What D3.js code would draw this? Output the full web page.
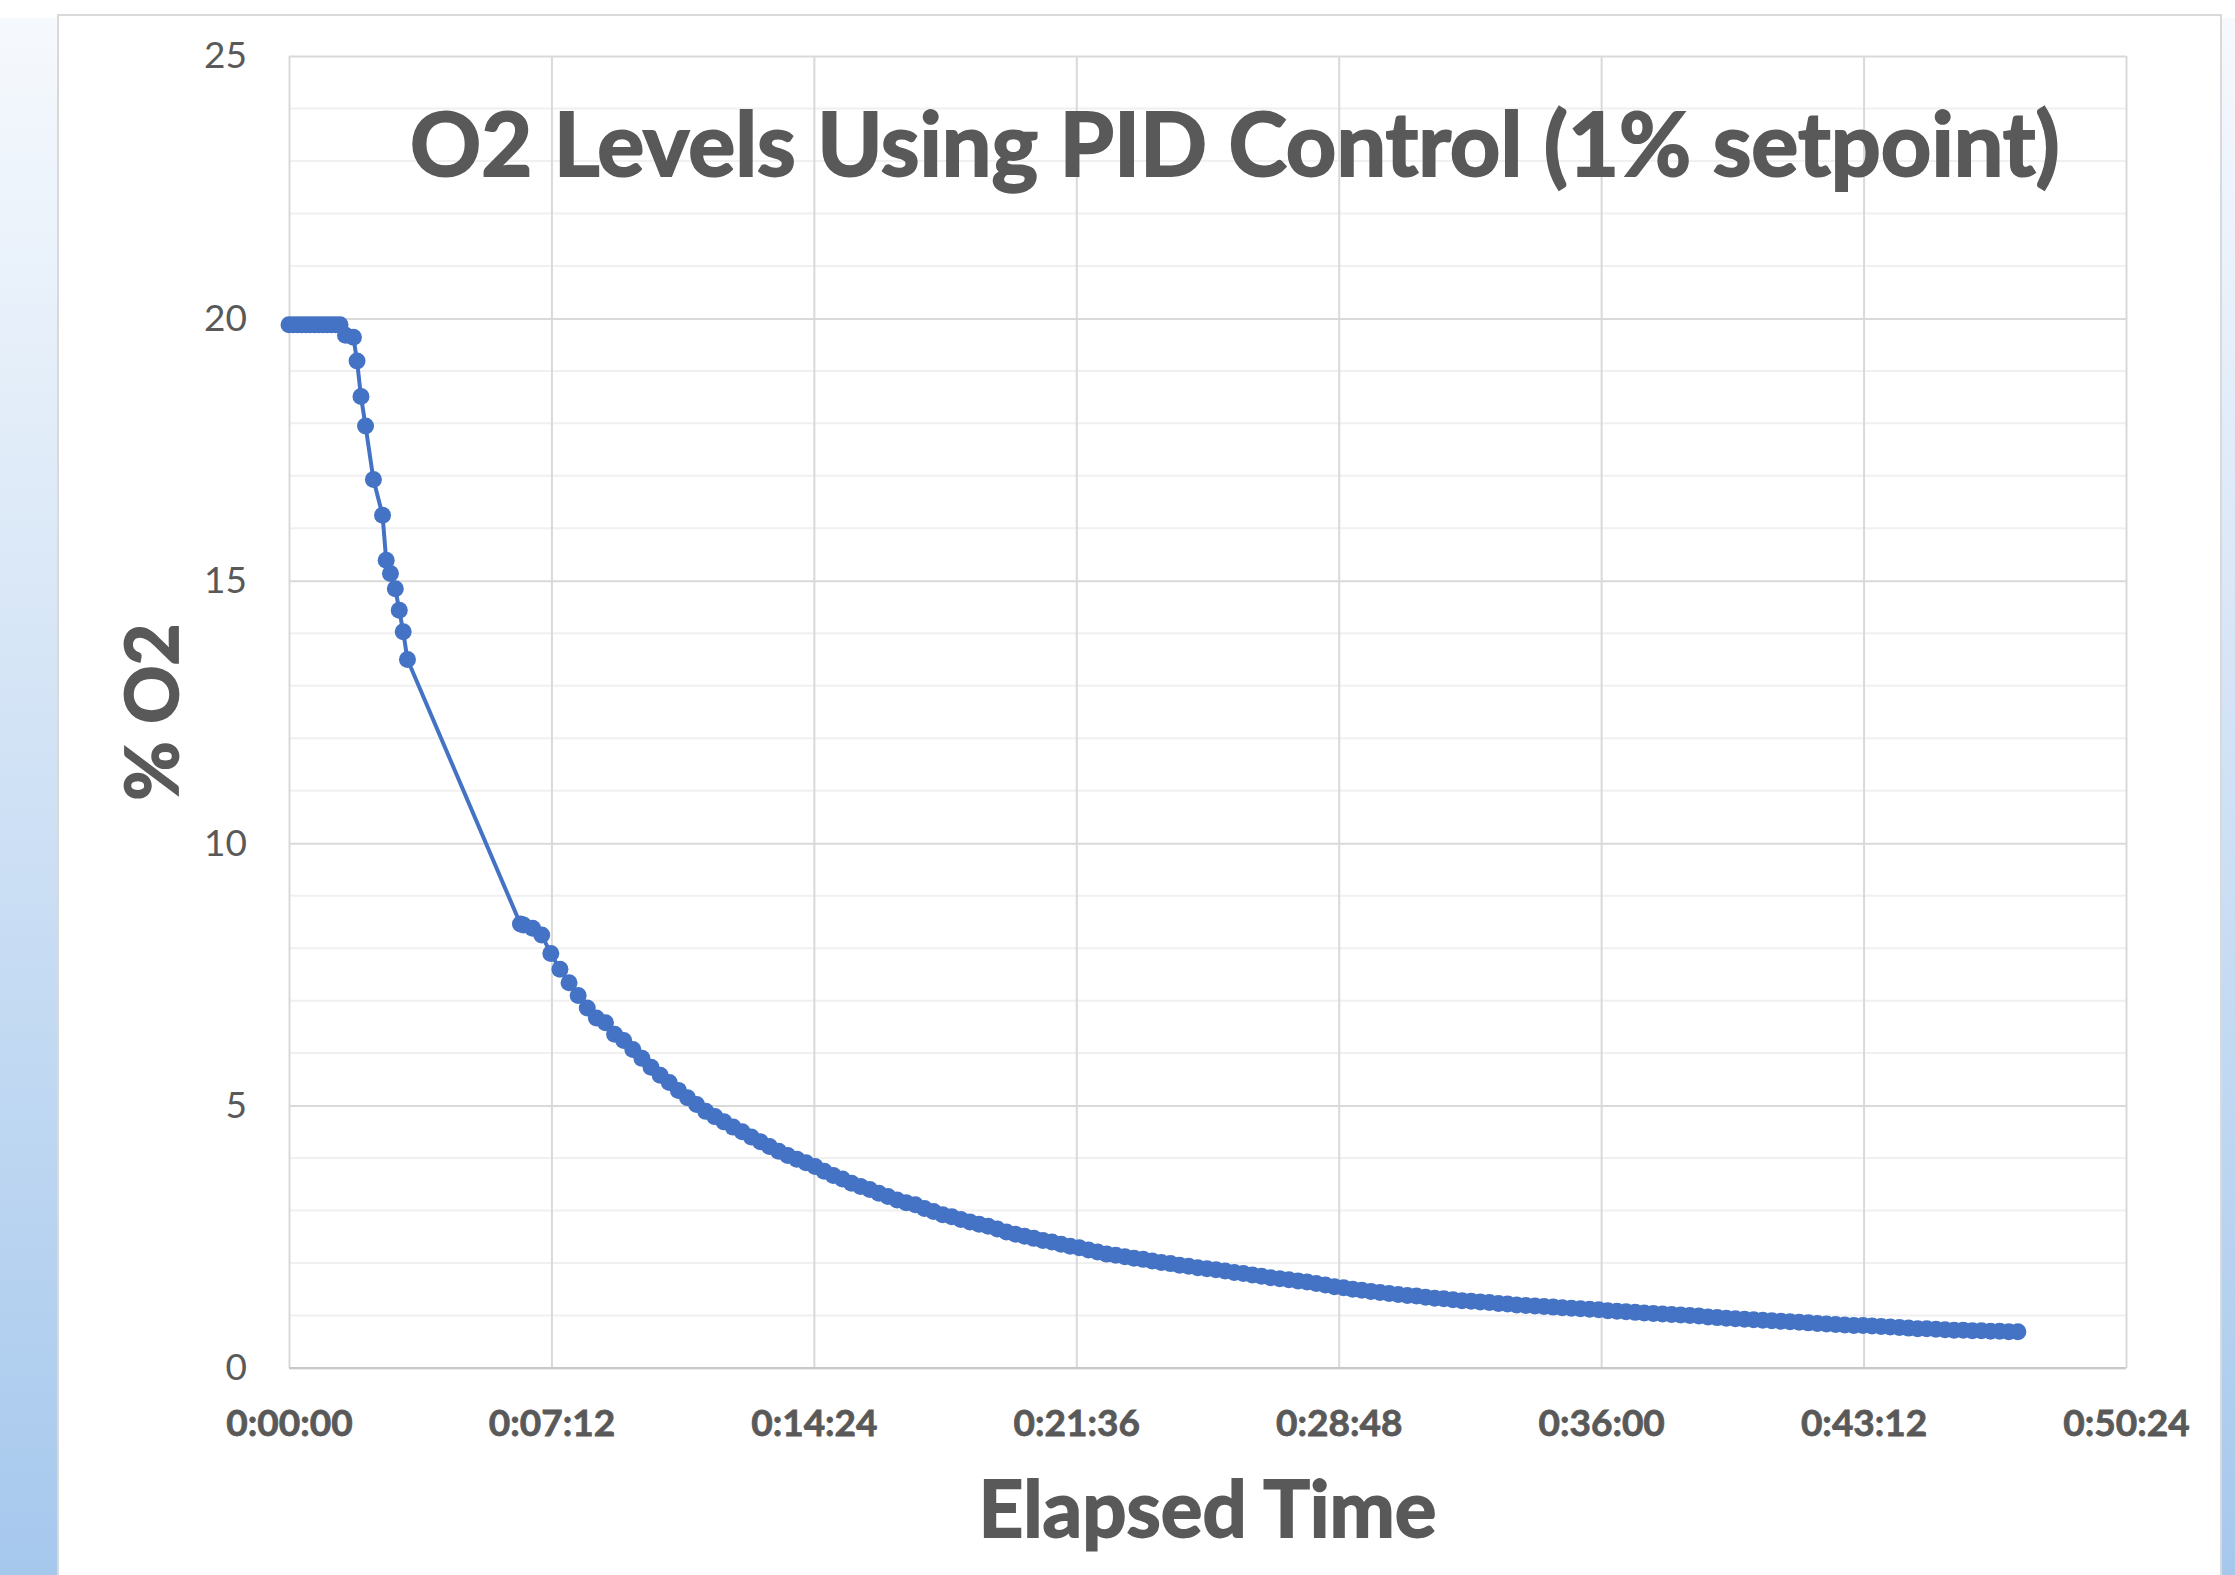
<!DOCTYPE html>
<html>
<head>
<meta charset="utf-8">
<script src="https://cdn.jsdelivr.net/npm/d3@7"></script>
<style>
  html, body { margin: 0; padding: 0; background: #fff; }
  svg { display: block; }
</style>
</head>
<body>
<div id="chart"></div>
<script>
// Elapsed time in seconds, O2 in %
// start: flat at ambient, then the first drop (sparse readings)
const startSec = [0, 7, 14, 21, 28, 35, 42, 49, 56, 63, 70, 77, 84,
  93, 106, 112, 118.5, 126, 139, 154, 160, 167, 175, 181.5, 188, 195];
const startO2 = [19.88, 19.88, 19.88, 19.88, 19.88, 19.88, 19.88, 19.88, 19.88, 19.88, 19.88, 19.88, 19.88,
  19.68, 19.64, 19.19, 18.51, 17.95, 16.93, 16.25, 15.39, 15.14, 14.85, 14.44, 14.03, 13.50];

// decay: dense readings after the gap
const decaySec = [381,
  386, 401, 416, 431, 446, 461, 476, 491, 506, 521,
  536, 551, 566, 581, 596, 611, 626, 641, 656, 671,
  686, 701, 716, 731, 746, 761, 776, 791, 806, 821,
  836, 851, 866, 881, 896, 911, 926, 941, 956, 971,
  986, 1001, 1016, 1031, 1046, 1061, 1076, 1091, 1106, 1121,
  1136, 1151, 1166, 1181, 1196, 1211, 1226, 1241, 1256, 1271,
  1286, 1301, 1316, 1331, 1346, 1361, 1376, 1391, 1406, 1421,
  1436, 1451, 1466, 1481, 1496, 1511, 1526, 1541, 1556, 1571,
  1586, 1601, 1616, 1631, 1646, 1661, 1676, 1691, 1706, 1721,
  1736, 1751, 1766, 1781, 1796, 1811, 1826, 1841, 1856, 1871,
  1886, 1901, 1916, 1931, 1946, 1961, 1976, 1991, 2006, 2021,
  2036, 2051, 2066, 2081, 2096, 2111, 2126, 2141, 2156, 2171,
  2186, 2201, 2216, 2231, 2246, 2261, 2276, 2291, 2306, 2321,
  2336, 2351, 2366, 2381, 2396, 2411, 2426, 2441, 2456, 2471,
  2486, 2501, 2516, 2531, 2546, 2561, 2576, 2591, 2606, 2621,
  2636, 2651, 2666, 2681, 2696, 2711, 2726, 2741, 2756, 2771,
  2786, 2801, 2816, 2831, 2846];
const decayO2 = [8.46,
  8.44, 8.38, 8.25, 7.90, 7.60, 7.34, 7.10, 6.86, 6.67, 6.58,
  6.36, 6.24, 6.07, 5.90, 5.73, 5.58, 5.44, 5.29, 5.15, 5.02,
  4.89, 4.79, 4.69, 4.59, 4.50, 4.40, 4.31, 4.22, 4.13, 4.05,
  3.98, 3.91, 3.84, 3.75, 3.67, 3.60, 3.52, 3.46, 3.40, 3.33,
  3.27, 3.20, 3.15, 3.11, 3.04, 2.98, 2.92, 2.88, 2.83, 2.78,
  2.74, 2.70, 2.65, 2.59, 2.55, 2.51, 2.47, 2.43, 2.40, 2.36,
  2.32, 2.29, 2.25, 2.21, 2.17, 2.15, 2.12, 2.09, 2.07, 2.04,
  2.01, 1.99, 1.96, 1.94, 1.91, 1.89, 1.87, 1.85, 1.82, 1.80,
  1.77, 1.75, 1.72, 1.70, 1.68, 1.66, 1.64, 1.61, 1.58, 1.55,
  1.53, 1.50, 1.48, 1.46, 1.44, 1.42, 1.40, 1.38, 1.37, 1.35,
  1.33, 1.32, 1.30, 1.28, 1.27, 1.26, 1.25, 1.23, 1.22, 1.20,
  1.19, 1.18, 1.17, 1.16, 1.15, 1.14, 1.13, 1.12, 1.11, 1.09,
  1.08, 1.07, 1.06, 1.05, 1.04, 1.03, 1.02, 1.01, 1.00, 0.99,
  0.97, 0.96, 0.95, 0.94, 0.93, 0.92, 0.91, 0.90, 0.89, 0.88,
  0.87, 0.86, 0.85, 0.84, 0.83, 0.82, 0.81, 0.81, 0.80, 0.79,
  0.78, 0.77, 0.76, 0.75, 0.75, 0.74, 0.73, 0.72, 0.72, 0.71,
  0.71, 0.70, 0.70, 0.69, 0.69];

// axis ticks: every 7:12 (432 s)
const xTicks = [0, 432, 864, 1296, 1728, 2160, 2592, 3024];
const yTicks = [0, 5, 10, 15, 20, 25];
const yMinor = [1, 2, 3, 4, 6, 7, 8, 9, 11, 12, 13, 14, 16, 17, 18, 19, 21, 22, 23, 24];

const titleText = "O2 Levels Using PID Control (1% setpoint)";
const xTitleText = "Elapsed Time";
const yTitleText = "% O2";

const data = startSec.map((t, i) => ({ t, v: startO2[i] }))
  .concat(decaySec.map((t, i) => ({ t, v: decayO2[i] })));

const W = 2235, H = 1575;
const margin = { top: 56, right: 109, bottom: 207, left: 289 }; // plot area inside the chart box
const textColor = "#595959";
const blue = "#4472c4";
const font = "Lato, 'Open Sans', sans-serif";

const svg = d3.select("#chart").append("svg")
  .attr("width", W)
  .attr("height", H);

// side panels behind the chart box
const grad = svg.append("defs").append("linearGradient")
  .attr("id", "side").attr("x1", 0).attr("y1", 0).attr("x2", 0).attr("y2", 1);
grad.append("stop").attr("offset", "0%").attr("stop-color", "#f6f9fd");
grad.append("stop").attr("offset", "50%").attr("stop-color", "#cfe1f5");
grad.append("stop").attr("offset", "100%").attr("stop-color", "#a6c8ed");

svg.append("rect").attr("x", 0).attr("y", 18).attr("width", 58).attr("height", H - 18).attr("fill", "url(#side)");
svg.append("rect").attr("x", 2221).attr("y", 18).attr("width", 14).attr("height", H - 18).attr("fill", "url(#side)");

// chart box
svg.append("rect")
  .attr("x", 58).attr("y", 15)
  .attr("width", 2163).attr("height", H)
  .attr("fill", "#fff")
  .attr("stroke", "#d9d9d9")
  .attr("stroke-width", 2);

const x = d3.scaleLinear()
  .domain([0, 3024])
  .range([margin.left, W - margin.right]);

const y = d3.scaleLinear()
  .domain([0, 25])
  .range([H - margin.bottom, margin.top]);

const fmtTime = s => {
  const h = Math.floor(s / 3600), m = Math.floor((s % 3600) / 60), sec = s % 60;
  return `${h}:${String(m).padStart(2, "0")}:${String(sec).padStart(2, "0")}`;
};

// minor gridlines
svg.append("g")
  .selectAll("line")
  .data(yMinor)
  .join("line")
  .attr("x1", x(0)).attr("x2", x(3024))
  .attr("y1", d => y(d)).attr("y2", d => y(d))
  .attr("stroke", "#f0f0f0")
  .attr("stroke-width", 2);

// major gridlines
svg.append("g")
  .attr("transform", `translate(${margin.left},0)`)
  .call(d3.axisLeft(y).tickValues(yTicks).tickSize(-(x(3024) - x(0))).tickFormat(""))
  .call(g => g.select(".domain").remove())
  .selectAll("line")
  .attr("stroke", "#d9d9d9")
  .attr("stroke-width", 2);

svg.append("g")
  .attr("transform", `translate(0,${margin.top})`)
  .call(d3.axisBottom(x).tickValues(xTicks).tickSize(y(0) - y(25)).tickFormat(""))
  .call(g => g.select(".domain").remove())
  .selectAll("line")
  .attr("stroke", "#d9d9d9")
  .attr("stroke-width", 2);

// x axis line
svg.append("line")
  .attr("x1", x(0)).attr("x2", x(3024))
  .attr("y1", y(0)).attr("y2", y(0))
  .attr("stroke", "#c8c8c8")
  .attr("stroke-width", 2);

// y tick labels
svg.append("g")
  .attr("transform", `translate(${margin.left},0)`)
  .call(d3.axisLeft(y).tickValues(yTicks).tickSize(0).tickPadding(42))
  .call(g => g.select(".domain").remove())
  .selectAll("text")
  .style("font-family", font)
  .style("font-size", "37px")
  .style("fill", textColor);

// x tick labels
svg.append("g")
  .attr("transform", `translate(0,${y(0)})`)
  .call(d3.axisBottom(x).tickValues(xTicks).tickSize(0).tickPadding(42).tickFormat(fmtTime))
  .call(g => g.select(".domain").remove())
  .selectAll("text")
  .style("font-family", font)
  .style("font-size", "37px")
  .style("font-weight", "bold")
  .style("fill", textColor)
  .style("stroke", textColor)
  .style("stroke-width", 0.8);

// series
const line = d3.line().x(d => x(d.t)).y(d => y(d.v));
svg.append("path")
  .datum(data)
  .attr("fill", "none")
  .attr("stroke", blue)
  .attr("stroke-width", 4)
  .attr("stroke-linejoin", "round")
  .attr("d", line);

svg.append("g")
  .selectAll("circle")
  .data(data)
  .join("circle")
  .attr("cx", d => x(d.t))
  .attr("cy", d => y(d.v))
  .attr("r", 8.5)
  .attr("fill", blue);

// fit a text to a measured width
function fitText(sel, target, size) {
  sel.style("font-size", size + "px");
  const len = sel.node().getComputedTextLength();
  sel.style("font-size", (size * target / len) + "px");
}

const title = svg.append("text")
  .attr("x", 410).attr("y", 176)
  .style("font-family", font)
  .style("font-weight", "bold")
  .style("fill", textColor)
  .style("stroke", textColor)
  .style("stroke-width", 2)
  .text(titleText);
fitText(title, 1650, 88);

const xTitle = svg.append("text")
  .attr("x", (x(0) + x(3024)) / 2).attr("y", 1537)
  .attr("text-anchor", "middle")
  .style("font-family", font)
  .style("font-weight", "bold")
  .style("fill", textColor)
  .style("stroke", textColor)
  .style("stroke-width", 1.8)
  .text(xTitleText);
fitText(xTitle, 458, 76);

const yTitle = svg.append("text")
  .attr("transform", `translate(178,${(y(0) + y(25)) / 2}) rotate(-90)`)
  .attr("text-anchor", "middle")
  .style("font-family", font)
  .style("font-weight", "bold")
  .style("fill", textColor)
  .style("stroke", textColor)
  .style("stroke-width", 1.8)
  .text(yTitleText);
fitText(yTitle, 177, 84);
</script>
</body>
</html>
